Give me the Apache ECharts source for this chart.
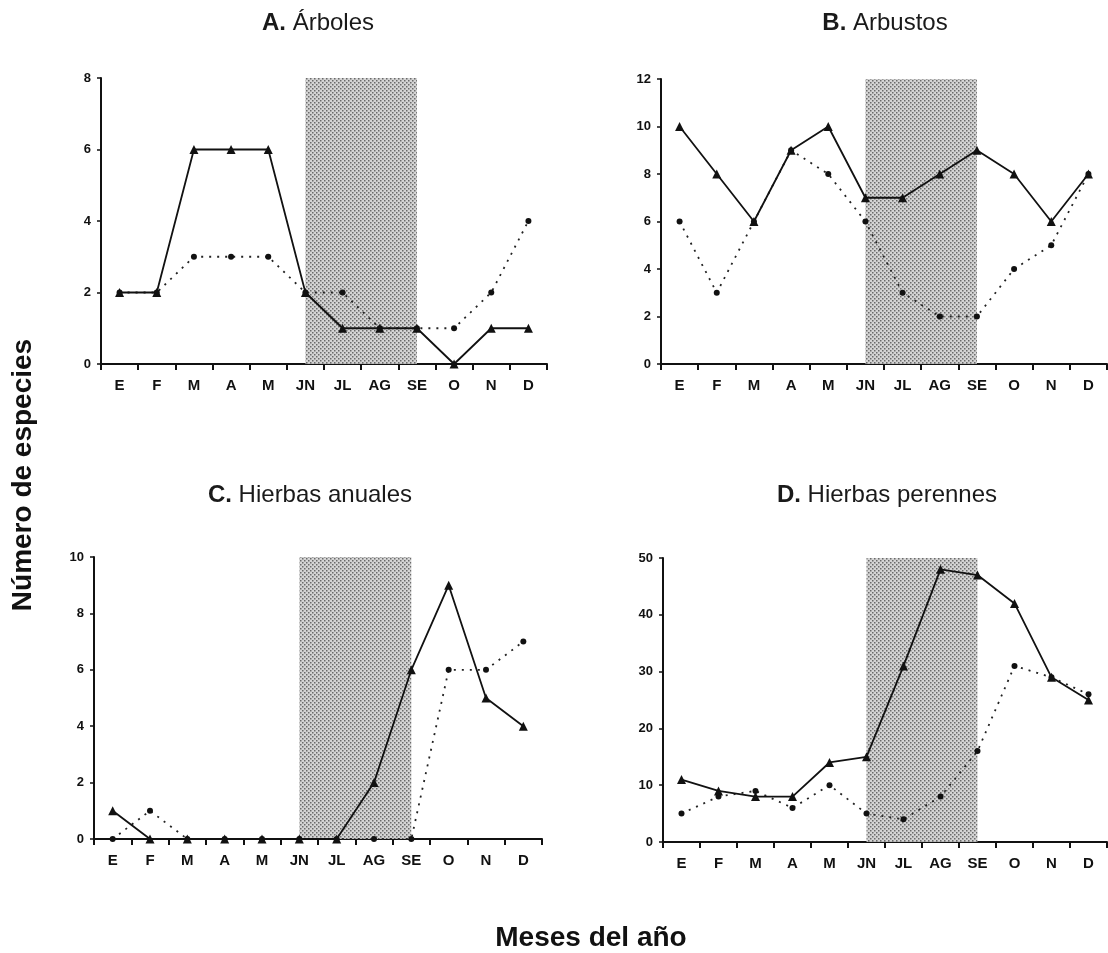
<!DOCTYPE html>
<html>
<head>
<meta charset="utf-8">
<script src="https://cdn.jsdelivr.net/npm/echarts@6/dist/echarts.min.js"></script>
<style>
  html, body { margin: 0; padding: 0; background: #fff; }
  #chart { width: 1108px; height: 953px; }
</style>
</head>
<body>
<div id="chart"></div>
<script>
// Month labels on the category axis
const months = ['E', 'F', 'M', 'A', 'M', 'JN', 'JL', 'AG', 'SE', 'O', 'N', 'D'];

// A. Árboles
const arbolesSolid  = [2, 2, 6, 6, 6, 2, 1, 1, 1, 0, 1, 1];
const arbolesDotted = [2, 2, 3, 3, 3, 2, 2, 1, 1, 1, 2, 4];

// B. Arbustos
const arbustosSolid  = [10, 8, 6, 9, 10, 7, 7, 8, 9, 8, 6, 8];
const arbustosDotted = [6, 3, 6, 9, 8, 6, 3, 2, 2, 4, 5, 8];

// C. Hierbas anuales
const anualesSolid  = [1, 0, 0, 0, 0, 0, 0, 2, 6, 9, 5, 4];
const anualesDotted = [0, 1, 0, 0, 0, 0, 0, 0, 0, 6, 6, 7];

// D. Hierbas perennes
const perennesSolid  = [11, 9, 8, 8, 14, 15, 31, 48, 47, 42, 29, 25];
const perennesDotted = [5, 8, 9, 6, 10, 5, 4, 8, 16, 31, 29, 26];

// Panel titles and y-axis maxima / intervals
const panelLetters = ['A.', 'B.', 'C.', 'D.'];
const panelNames = ['Árboles', 'Arbustos', 'Hierbas anuales', 'Hierbas perennes'];
const yMax = [8, 12, 10, 50];
const yStep = [2, 2, 2, 10];

// Shaded rainy season (first and last month)
const seasonStart = 'JN';
const seasonEnd = 'SE';

// Dotted screen texture for the shaded season
function dotPattern() {
  const c = document.createElement('canvas');
  c.width = 4; c.height = 4;
  const g = c.getContext('2d');
  g.fillStyle = '#d0d0d0';
  g.fillRect(0, 0, 4, 4);
  g.fillStyle = '#5a5a5a';
  g.fillRect(0, 0, 1.5, 1.5);
  g.fillRect(2, 2, 1.5, 1.5);
  return c;
}
const pattern = dotPattern();

const chart = echarts.init(document.getElementById('chart'));
const FONT = 'Liberation Sans, Arial, sans-serif';

const grids = [
  { left: 101, top: 78, width: 446, height: 286 },
  { left: 661, top: 79, width: 446, height: 285 },
  { left: 94,  top: 557, width: 448, height: 282 },
  { left: 663, top: 558, width: 444, height: 284 }
];
const titlePos = [
  { left: 313, top: 6 },
  { left: 880, top: 6 },
  { left: 305, top: 478 },
  { left: 882, top: 478 }
];
const solids = [arbolesSolid, arbustosSolid, anualesSolid, perennesSolid];
const dotted = [arbolesDotted, arbustosDotted, anualesDotted, perennesDotted];

const title = panelNames.map((name, i) => ({
  text: '{b|' + panelLetters[i] + '} ' + name,
  left: titlePos[i].left,
  top: titlePos[i].top,
  textAlign: 'center',
  textStyle: {
    fontFamily: FONT, fontSize: 24, fontWeight: 'normal', color: '#1a1a1a',
    rich: { b: { fontFamily: FONT, fontSize: 24, fontWeight: 'bold', color: '#1a1a1a' } }
  }
}));

const xAxis = grids.map((g, i) => ({
  type: 'category',
  gridIndex: i,
  data: months,
  boundaryGap: true,
  axisLine: { lineStyle: { color: '#111', width: 2 } },
  axisTick: { show: true, interval: 0, length: 6, lineStyle: { color: '#111', width: 2 } },
  axisLabel: { interval: 0, color: '#111', fontFamily: FONT, fontSize: 15, fontWeight: 'bold', margin: 14 },
  splitLine: { show: false }
}));

const yAxis = grids.map((g, i) => ({
  type: 'value',
  gridIndex: i,
  min: 0,
  max: yMax[i],
  interval: yStep[i],
  axisLine: { show: true, lineStyle: { color: '#111', width: 2 } },
  axisTick: { show: true, length: 4, lineStyle: { color: '#111', width: 1.5 } },
  axisLabel: { color: '#111', fontFamily: FONT, fontSize: 13, fontWeight: 'bold', margin: 10 },
  splitLine: { show: false }
}));

const series = [];
grids.forEach((g, i) => {
  series.push({
    type: 'line',
    xAxisIndex: i, yAxisIndex: i,
    data: dotted[i],
    symbol: 'circle',
    symbolSize: 6,
    itemStyle: { color: '#111' },
    lineStyle: { color: '#222', width: 1.8, type: [2, 6] },
    z: 3,
    markArea: {
      silent: true,
      itemStyle: { color: { image: pattern, repeat: 'repeat' }, opacity: 0.9 },
      data: [[{ xAxis: seasonStart, yAxis: 0 }, { xAxis: seasonEnd, yAxis: yMax[i] }]]
    }
  });
  series.push({
    type: 'line',
    xAxisIndex: i, yAxisIndex: i,
    data: solids[i],
    symbol: 'triangle',
    symbolSize: 9,
    itemStyle: { color: '#111' },
    lineStyle: { color: '#111', width: 1.8 },
    z: 4
  });
});

chart.setOption({
  backgroundColor: '#fff',
  animation: false,
  title: title.concat([
    {
      text: 'Meses del año',
      left: 586, top: 919,
      textAlign: 'center',
      textStyle: { fontFamily: FONT, fontSize: 28, fontWeight: 'bold', color: '#111' }
    }
  ]),
  // Shared y-axis title, running upward along the left edge
  graphic: [{
    type: 'text',
    x: 23, y: 475,
    rotation: Math.PI / 2,
    style: {
      text: 'Número de especies',
      font: 'bold 28px ' + FONT,
      fill: '#111',
      textAlign: 'center',
      textVerticalAlign: 'middle'
    }
  }],
  grid: grids,
  xAxis: xAxis,
  yAxis: yAxis,
  series: series
});
</script>
</body>
</html>
